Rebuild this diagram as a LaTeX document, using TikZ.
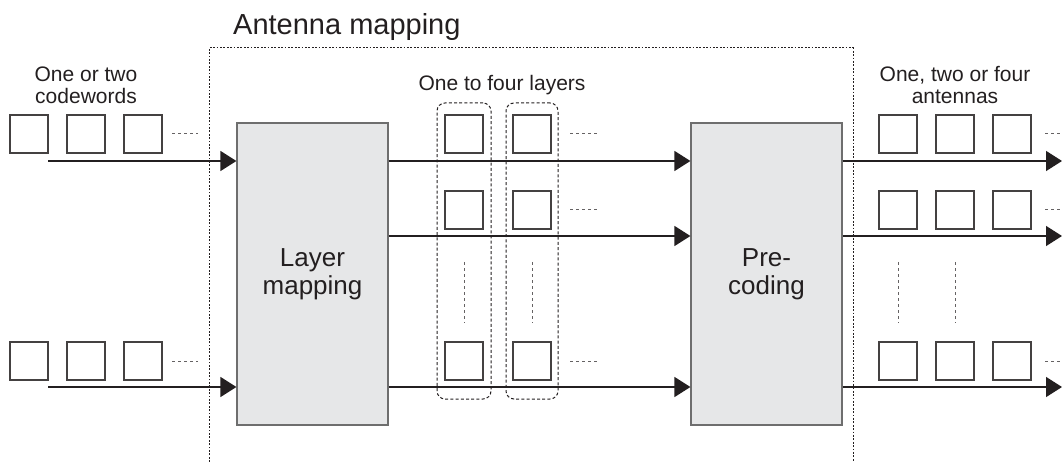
\documentclass[tikz,border=0pt]{standalone}
\usepackage{fontspec}
\setmainfont{Liberation Sans}
\usetikzlibrary{arrows.meta}
\definecolor{boxfill}{HTML}{E6E7E8}
\definecolor{boxline}{HTML}{6E6E6E}
\definecolor{ink}{HTML}{231F20}
\tikzset{
  sq/.style={draw=ink!85, line width=1.1pt, minimum size=38pt, inner sep=0pt, fill=white},
  blk/.style={draw=boxline, fill=boxfill, line width=1.2pt, minimum width=151pt, minimum height=302pt, inner sep=0pt, align=center, font=\fontsize{26}{28}\selectfont, text=ink},
  arr/.style={draw=ink, line width=1.4pt, -{Triangle[length=16pt,width=20pt]}},
  dots/.style={draw=ink!70, line width=1pt, dash pattern=on 3pt off 3pt},
  frame/.style={draw=ink, line width=1pt, dash pattern=on 1.8pt off 1.6pt},
  grp/.style={draw=ink, line width=1pt, dash pattern=on 3pt off 2.2pt, rounded corners=8pt, minimum height=296pt, inner sep=0pt},
  lbl/.style={font=\fontsize{21}{25}\selectfont, text=ink, inner sep=0pt, anchor=base},
}
\begin{document}
\begin{tikzpicture}[x=1pt,y=-1pt]
\useasboundingbox (0,0) rectangle (1062,462);
% antenna mapping frame
\node[font=\fontsize{29}{32}\selectfont, text=ink, inner sep=0pt, anchor=base west] (title) at (233,35) {Antenna mapping};
\draw[frame] (209,462) -- (209,48) -- (853,48) -- (853,462);
% blocks
\node[blk] (lm) at (312.5,274) {Layer\\mapping};
\node[blk] (pc) at (766.5,274) {Pre-\\coding};
% labels
\node[lbl] (l1a) at (86,82) {One or two};
\node[lbl] (l1b) at (86,104) {codewords};
\node[lbl] (l2) at (502,91) {One to four layers};
\node[lbl] (l3a) at (955,82) {One, two or four};
\node[lbl] (l3b) at (955,104) {antennas};
% layer groups
\node[grp, minimum width=54pt] (g1) at (464,251) {};
\node[grp, minimum width=52pt] (g2) at (532,251) {};
% codeword squares
\foreach \x/\n in {29/a,86/b,143/c}{
  \node[sq] (cw1\n) at (\x,134) {};
  \node[sq] (cw2\n) at (\x,361) {};
}
\draw[dots] (172,134) -- (198,134);
\draw[dots] (172,361) -- (198,361);
% layer squares
\foreach \x/\n in {464/a,532/b}{
  \node[sq] (ly1\n) at (\x,134) {};
  \node[sq] (ly2\n) at (\x,210) {};
  \node[sq] (ly3\n) at (\x,361) {};
  \draw[dots] (\x,262) -- (\x,323);
}
\draw[dots] (570,134) -- (597,134);
\draw[dots] (570,210) -- (597,210);
\draw[dots] (570,361) -- (597,361);
% antenna squares
\foreach \x/\n in {898/a,955/b,1012/c}{
  \node[sq] (an1\n) at (\x,134) {};
  \node[sq] (an2\n) at (\x,210) {};
  \node[sq] (an3\n) at (\x,361) {};
}
\foreach \x in {898,955}{ \draw[dots] (\x,262) -- (\x,323); }
\draw[dots] (1045,134) -- (1062,134);
\draw[dots] (1045,210) -- (1062,210);
\draw[dots] (1045,361) -- (1062,361);
% connectors
\coordinate (in1) at (48,161);
\coordinate (in2) at (48,387);
\coordinate (out1) at (1062,161);
\coordinate (out2) at (1062,236);
\coordinate (out3) at (1062,387);
\draw[arr] (in1) -- (lm.west |- in1);
\draw[arr] (in2) -- (lm.west |- in2);
\draw[arr] (lm.east |- out1) -- (pc.west |- out1);
\draw[arr] (lm.east |- out2) -- (pc.west |- out2);
\draw[arr] (lm.east |- out3) -- (pc.west |- out3);
\draw[arr] (pc.east |- out1) -- (out1);
\draw[arr] (pc.east |- out2) -- (out2);
\draw[arr] (pc.east |- out3) -- (out3);
\end{tikzpicture}
\end{document}
